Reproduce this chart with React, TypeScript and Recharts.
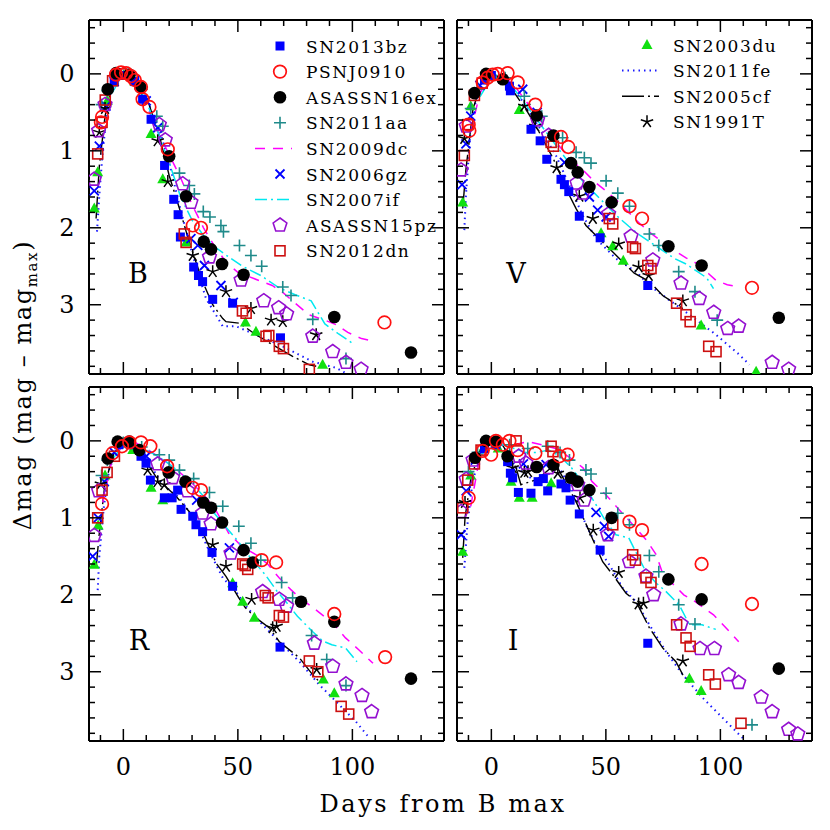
import React from 'react'
import { ComposedChart, Line, Scatter, XAxis, YAxis } from 'recharts'

type Pt = [number, number]

// axis ticks
const xTicks = [-10, 0, 10, 20, 30, 40, 50, 60, 70, 80, 90, 100, 110, 120, 130]
const xLabels = [0, 50, 100]
const yTicks = [
  -0.6, -0.4, -0.2, 0, 0.2, 0.4, 0.6, 0.8, 1, 1.2, 1.4, 1.6, 1.8, 2, 2.2, 2.4,
  2.6, 2.8, 3, 3.2, 3.4, 3.6, 3.8,
]
const yLabels = [0, 1, 2, 3]

// ---- B band ----
const SN2013bz_B: Pt[] = [[-4, 0.1], [-1, 0.02], [2, 0.02], [5, 0.1], [8.4, 0.33], [12.1, 0.59], [18, 1.19], [22, 1.63], [23.9, 1.83], [24.9, 2.12], [30.7, 2.51], [32.8, 2.62], [34.6, 2.7], [39, 2.93], [47.7, 2.98], [68.6, 3.43]]
const PSNJ0910_B: Pt[] = [[-9.8, 0.63], [-9.3, 0.56], [-3.2, 0.01], [-1, -0.02], [1.2, -0.01], [3.3, 0.03], [5, 0.08], [7.7, 0.17], [8.4, 0.33], [11.4, 0.43], [19.4, 0.98], [30.3, 1.97], [33.9, 2.0], [114, 3.23]]
const ASASSN16ex_B: Pt[] = [[-6.8, 0.2], [-3.2, -0.01], [2.6, 0.01], [7.4, 0.17], [20, 1.07], [27.4, 1.59], [35.1, 2.18], [38.3, 2.28], [43.1, 2.47], [52.5, 2.61], [92.1, 3.16], [125.6, 3.62]]
const SN2011aa_B: Pt[] = [[-9.5, 0.4], [-7, 0.22], [-2, 0.02], [3, 0.02], [8, 0.2], [14.6, 0.55], [17.2, 0.68], [24.5, 1.29], [28.8, 1.45], [31, 1.56], [34.9, 1.79], [37.8, 1.86], [42.6, 1.97], [43.7, 2.05], [50.7, 2.23], [55.7, 2.36], [60.4, 2.5], [69.6, 2.77], [73.2, 2.88], [82.7, 3.19], [97.2, 3.7]]
const SN2009dc_B: Pt[] = [[-8, 0.5], [-5, 0.2], [0, 0], [5, 0.1], [10, 0.4], [15, 0.75], [20, 1.05], [25, 1.35], [30, 1.7], [35, 2.0], [40, 2.25], [45, 2.45], [50, 2.58], [57, 2.66], [65, 2.75], [70, 2.85], [75, 2.98], [81, 3.13], [88, 3.2], [93, 3.26], [98, 3.36], [104, 3.44], [110, 3.48]]
const SN2006gz_B: Pt[] = [[-12.7, 1.52], [-10.5, 0.94], [-7.6, 0.42], [-4, 0.1], [0, 0], [5, 0.08], [10, 0.35], [15, 0.7], [29.5, 2.14], [32.5, 2.23], [35.4, 2.49], [42.6, 2.75], [48, 2.97]]
const SN2007if_B: Pt[] = [[-5, 0.25], [0, 0.0], [5, 0.1], [10, 0.35], [15, 0.75], [20, 1.15], [25, 1.6], [30, 1.9], [35, 2.1], [40, 2.25], [46, 2.38], [52, 2.5], [60, 2.62], [68, 2.78], [75, 2.87], [82, 2.95], [88, 3.25], [94, 3.38], [101, 3.52]]
const ASASSN15pz_B: Pt[] = [[-12.7, 1.37], [-10.8, 0.74], [-8, 0.4], [15.7, 0.66], [18.3, 0.86], [25.9, 1.43], [29.5, 1.67], [37.6, 2.38], [51.4, 2.68], [61.3, 2.95], [67.8, 3.04], [71.3, 3.12], [82.7, 3.41], [91.4, 3.61], [97.2, 3.75], [103.8, 3.84]]
const SN2012dn_B: Pt[] = [[-11.2, 1.04], [-9.3, 0.63], [-7.9, 0.34], [-4.7, 0.09], [-1, 0.0], [26.6, 2.08], [27.4, 2.19], [52, 3.08], [53.6, 3.11], [62.3, 3.41], [63.5, 3.4], [68.1, 3.54], [69.9, 3.57], [81.2, 3.84]]
const SN2003du_B: Pt[] = [[-12.7, 1.75], [-11.2, 1.28], [-7, 0.35], [0, 0.02], [5, 0.1], [12.1, 0.78], [17.2, 1.37], [27.4, 2.19], [53.3, 3.23], [57.9, 3.35], [87, 3.78]]
const SN2011fe_B: Pt[] = [[-11.5, 2.05], [-10.5, 1.58], [-9, 1.0], [-6.8, 0.42], [-4.7, 0.12], [-0.3, -0.01], [4.1, 0.03], [9.9, 0.31], [15.7, 0.72], [20, 1.15], [24.5, 1.71], [30.3, 2.36], [36.1, 2.92], [43.4, 3.28], [49.2, 3.28], [57.9, 3.39], [68.1, 3.52], [82.7, 3.74], [92.9, 3.82], [97.2, 3.89]]
const SN2005cf_B: Pt[] = [[-11.9, 1.88], [-10.5, 1.2], [-8, 0.55], [-5, 0.15], [0, 0], [5, 0.05], [9.9, 0.28], [15.7, 0.8], [20, 1.32], [24.5, 1.75], [28.8, 2.19], [34.6, 2.7], [39, 3.0], [43.4, 3.18], [44.8, 3.22], [50.7, 3.24], [57.9, 3.39], [65.2, 3.52], [73.9, 3.67], [81.2, 3.78], [84.2, 3.8]]
const SN1991T_B: Pt[] = [[-10.5, 0.76], [-8, 0.45], [15, 0.87], [19.4, 1.4], [30.3, 2.36], [39, 2.57], [44.8, 2.83], [55.7, 3.05], [64.5, 3.2], [69.6, 3.22], [84.2, 3.39]]

// ---- V band ----
const SN2013bz_V: Pt[] = [[-3, 0.08], [0, 0.02], [4.9, 0.07], [7.9, 0.16], [8.3, 0.22], [17.3, 0.72], [21.3, 0.87], [24.2, 1.11], [30.4, 1.37], [31.9, 1.44], [33.8, 1.53], [38.4, 1.85], [47.5, 2.13], [68.3, 2.75]]
const PSNJ0910_V: Pt[] = [[-9.9, 0.66], [-9.6, 0.74], [-3.8, 0.11], [-1.6, 0.05], [0.6, 0.01], [2.8, 0], [7.1, -0.01], [11.5, 0.11], [19.2, 0.4], [30.4, 0.82], [33.6, 0.95], [60.3, 1.72], [65.8, 1.88], [113.8, 2.78]]
const ASASSN16ex_V: Pt[] = [[-7.4, 0.25], [-2.3, 0], [5, 0.07], [19.8, 0.54], [27.1, 0.8], [34.8, 1.16], [37.7, 1.28], [42.8, 1.47], [52.5, 1.67], [77.3, 2.24], [91.8, 2.49], [125.5, 3.17]]
const SN2011aa_V: Pt[] = [[-9, 0.45], [-6, 0.2], [0, 0.02], [6, 0.05], [14.4, 0.29], [22, 0.55], [31.1, 0.83], [37, 1.02], [40.6, 1.09], [43.5, 1.16], [50.1, 1.39], [55.2, 1.55], [60.3, 1.72], [69, 2.08], [73.1, 2.23], [81.8, 2.57], [88.9, 2.83], [98.6, 3.2]]
const SN2009dc_V: Pt[] = [[-9, 0.75], [-5, 0.25], [0, 0.02], [5, 0.02], [10, 0.15], [15, 0.35], [20, 0.55], [25, 0.75], [30, 0.95], [35, 1.12], [40, 1.25], [45, 1.4], [50, 1.52], [55, 1.65], [60, 1.8], [65, 1.95], [70, 2.08], [75, 2.19], [80, 2.3], [85, 2.39], [92, 2.5], [95, 2.6], [98, 2.68], [103, 2.74], [108, 2.77]]
const SN2006gz_V: Pt[] = [[-12.8, 1.44], [-11.1, 0.91], [-9, 0.55], [-5, 0.15], [13.7, 0.2], [20, 0.5], [31.9, 1.15], [42.8, 1.6], [46.4, 1.77], [50.1, 1.86]]
const SN2007if_V: Pt[] = [[-5, 0.3], [0, 0.05], [5, 0.05], [10, 0.2], [15, 0.4], [20, 0.6], [25, 0.8], [30, 1.0], [35, 1.2], [40, 1.4], [45, 1.55], [50, 1.7], [55, 1.85], [60, 1.98], [65, 2.1], [70, 2.2], [75, 2.3], [80, 2.4], [85, 2.47], [90, 2.57], [94, 2.65], [97, 2.79]]
const ASASSN15pz_V: Pt[] = [[-13.2, 1.25], [-11, 0.68], [20.2, 0.6], [25, 0.8], [37.4, 1.42], [39.9, 1.55], [51.2, 1.82], [61, 2.11], [70.5, 2.42], [82.8, 2.72], [90.8, 2.92], [97.1, 3.1], [103.2, 3.31], [108, 3.28], [122.6, 3.75], [129.8, 3.84]]
const SN2012dn_V: Pt[] = [[-11.8, 1.06], [-10.3, 0.66], [-7.4, 0.28], [-4, 0.12], [26.1, 0.89], [27.1, 0.94], [51.5, 1.88], [53, 1.95], [61.7, 2.25], [62.9, 2.27], [68.3, 2.49], [69.7, 2.53], [80.9, 2.98], [85, 3.13], [86.8, 3.22], [94.9, 3.54], [98.1, 3.61]]
const SN2003du_V: Pt[] = [[-12.5, 1.67], [-9, 0.42], [0, 0.02], [12.2, 0.47], [47.9, 2.07], [53, 2.24], [57.6, 2.43], [91.6, 3.27], [115.6, 3.87]]
const SN2011fe_V: Pt[] = [[-11.8, 2.03], [-11.1, 1.58], [-9.5, 0.9], [-7.4, 0.42], [-4.5, 0.15], [-0.1, -0.01], [5.7, 0.05], [13, 0.33], [21, 0.7], [28.2, 1.06], [34.1, 1.45], [39.9, 1.84], [45.7, 2.14], [54.4, 2.4], [63.2, 2.57], [69, 2.75], [77.7, 2.94], [86.5, 3.13], [98.1, 3.39], [108.3, 3.65], [112.7, 3.78]]
const SN2005cf_V: Pt[] = [[-12.5, 1.75], [-11.1, 1.24], [-8, 0.45], [-4, 0.1], [0, 0], [6, 0.07], [15.9, 0.5], [19.5, 0.68], [27, 1.1], [34.1, 1.58], [37, 1.75], [41.3, 1.97], [45.7, 2.1], [51.5, 2.27], [57.3, 2.44], [62.4, 2.59], [69, 2.7], [74.8, 2.88], [83.6, 3.05]]
const SN1991T_V: Pt[] = [[-11.8, 0.84], [14.4, 0.42], [19.2, 0.68], [28.5, 1.22], [38.4, 1.59], [44.3, 1.88], [55.6, 2.21], [64.3, 2.51], [68.7, 2.62], [83.6, 2.95]]

// ---- R band ----
const SN2013bz_R: Pt[] = [[-2, 0.05], [3, 0.05], [7.7, 0.2], [9.9, 0.29], [11.8, 0.51], [17.9, 0.74], [21.3, 0.74], [23.7, 0.64], [25.2, 0.89], [30.3, 0.98], [31.7, 1.09], [34.6, 1.18], [38.7, 1.45], [47.7, 1.89], [68.4, 2.68]]
const PSNJ0910_R: Pt[] = [[-9.3, 0.82], [-4.7, 0.16], [-0.6, 0.07], [2.6, 0.02], [7.7, 0.02], [11.8, 0.07], [19.1, 0.33], [30.3, 0.61], [33.9, 0.64], [60.4, 1.55], [66.7, 1.58], [92.1, 2.25], [114.3, 2.81]]
const ASASSN16ex_R: Pt[] = [[-6.8, 0.23], [-2.5, 0.01], [2.6, 0.01], [7, 0.12], [19.8, 0.41], [27.1, 0.53], [34.9, 0.8], [38.3, 0.87], [43.1, 1.06], [52.5, 1.42], [56.5, 1.58], [77.6, 2.09], [92.1, 2.35], [125.6, 3.09]]
const SN2011aa_R: Pt[] = [[-9.5, 0.45], [-7, 0.25], [0, 0.02], [8, 0.08], [15.7, 0.18], [20, 0.25], [24.5, 0.38], [30.7, 0.49], [37.6, 0.67], [43.4, 0.85], [50.4, 1.11], [55.7, 1.33], [60, 1.55], [69.1, 1.84], [73.9, 2.04], [82.2, 2.53], [88.8, 2.84], [97.2, 3.18]]
const SN2009dc_R: Pt[] = [[-9, 0.8], [-5, 0.25], [0, 0.05], [5, 0.02], [10, 0.1], [15, 0.2], [20, 0.3], [25, 0.42], [30, 0.55], [35, 0.7], [40, 0.88], [46, 1.2], [52, 1.38], [58, 1.48], [63, 1.6], [68, 1.78], [73, 1.93], [77, 2.04], [83, 2.17], [88.5, 2.3], [93, 2.42], [97, 2.56], [103, 2.72], [109, 2.89]]
const SN2006gz_R: Pt[] = [[-13.4, 1.5], [-11, 1.0], [-8.3, 0.53], [-4, 0.15], [10, 0.2], [32, 0.77], [46.3, 1.39]]
const SN2007if_R: Pt[] = [[-5, 0.25], [0, 0.05], [5, 0.05], [10, 0.12], [15, 0.2], [20, 0.3], [25, 0.42], [30, 0.55], [35, 0.72], [40, 0.95], [45, 1.13], [50, 1.3], [55, 1.5], [62, 1.74], [67, 1.95], [71, 2.09], [76, 2.28], [82.7, 2.48], [87, 2.6], [91, 2.65], [97, 2.69], [102, 2.87]]
const ASASSN15pz_R: Pt[] = [[-12.7, 1.23], [-10.8, 0.65], [15, 0.3], [21.5, 0.48], [28, 0.65], [34.6, 0.94], [38.3, 1.08], [47, 1.46], [60.8, 1.96], [68.1, 2.06], [71.3, 2.15], [83.4, 2.63], [91.4, 2.93], [97.2, 3.16], [104.2, 3.31], [108.4, 3.52]]
const SN2012dn_R: Pt[] = [[-11.2, 1.0], [-9.3, 0.64], [-7.1, 0.41], [-3.9, 0.2], [52.1, 1.6], [53.2, 1.62], [54.3, 1.67], [62, 2.01], [63.2, 2.04], [68.1, 2.27], [69.9, 2.29], [81.2, 2.86], [84.9, 3.0], [95.1, 3.45], [98.4, 3.55]]
const SN2003du_R: Pt[] = [[-12.7, 1.61], [-11, 1.1], [-8, 0.45], [4.1, 0.12], [12.1, 0.61], [17.2, 0.77], [47.7, 1.85], [52.1, 2.09], [57.2, 2.3], [87.3, 3.1], [92.1, 3.28]]
const SN2011fe_R: Pt[] = [[-11.2, 1.94], [-10.5, 1.5], [-8.5, 0.85], [-6.1, 0.35], [-1.7, 0.1], [2.6, 0.05], [9.9, 0.23], [17.2, 0.57], [24.5, 0.74], [31.7, 1.05], [37.6, 1.44], [43.4, 1.78], [49.2, 1.96], [53.6, 2.15], [60.8, 2.39], [68.1, 2.61], [76.9, 2.87], [85.6, 3.17], [94.3, 3.43], [101.6, 3.65], [107.4, 3.86]]
const SN2005cf_R: Pt[] = [[-11.9, 1.65], [-10.5, 1.2], [-8, 0.55], [-4, 0.15], [0, 0.02], [5, 0.06], [9.9, 0.27], [15, 0.5], [23, 0.72], [28.8, 0.92], [34.6, 1.18], [40.5, 1.59], [44.8, 1.76], [50.4, 2.04], [53.3, 2.17], [57.9, 2.3], [63.8, 2.43], [68.1, 2.61], [76.9, 2.82], [82.7, 3.04], [85.6, 3.13]]
const SN1991T_R: Pt[] = [[-9.8, 0.56], [10.6, 0.38], [15, 0.53], [17.9, 0.57], [39, 1.35], [44.8, 1.63], [56, 2.06], [65.2, 2.43], [66.9, 2.41], [84.4, 2.97]]

// ---- I band ----
const SN2013bz_I: Pt[] = [[-3, 0.1], [2, 0.05], [7.1, 0.27], [8.3, 0.42], [9.3, 0.48], [11.8, 0.67], [17.3, 0.68], [20.4, 0.53], [22.7, 0.49], [24.6, 0.65], [30.4, 0.56], [32.6, 0.61], [34.4, 0.77], [38.4, 0.95], [47.5, 1.42], [68.3, 2.63]]
const PSNJ0910_I: Pt[] = [[-9.9, 0.74], [-3.8, 0.13], [-0.1, 0.18], [2, 0], [5, 0.05], [7.9, 0], [11.5, 0.12], [19.2, 0.16], [29.7, 0.2], [33.3, 0.18], [60.3, 1.05], [65.8, 1.16], [91.8, 1.6], [113.8, 2.12]]
const ASASSN16ex_I: Pt[] = [[-7.1, 0.22], [-2.3, 0], [2, 0.01], [7.1, 0.2], [19.8, 0.34], [27.1, 0.31], [34.8, 0.48], [37.7, 0.53], [42.8, 0.64], [52.5, 1.0], [77.3, 1.8], [91.8, 2.06], [125.5, 2.96]]
const SN2011aa_I: Pt[] = [[-10, 0.4], [-6, 0.15], [0, 0.02], [8, 0.05], [15.9, 0.1], [24.6, 0.07], [30, 0.15], [34.1, 0.25], [41.3, 0.38], [43.5, 0.43], [50.1, 0.68], [55.2, 0.94], [60.3, 1.09], [69, 1.49], [73.1, 1.7], [81.8, 2.13], [88.9, 2.38], [113.8, 3.69]]
const SN2009dc_I: Pt[] = [[-9, 0.85], [-5, 0.2], [0, 0.05], [5, 0.05], [10, 0.05], [16, 0.01], [22, 0.05], [28, 0.1], [35, 0.23], [40, 0.35], [44, 0.53], [50, 0.7], [56, 0.9], [63, 1.13], [68, 1.3], [72, 1.48], [75, 1.74], [80, 1.88], [84, 2.0], [89, 2.09], [97, 2.26], [104, 2.48], [108, 2.61]]
const SN2006gz_I: Pt[] = [[-13.2, 1.22], [-11, 0.65], [-7, 0.25], [14, 0.3], [23.9, 0.31], [45.7, 0.93], [49.3, 1.11], [51.2, 1.24]]
const SN2007if_I: Pt[] = [[-5, 0.2], [0, 0.05], [5, 0.05], [10, 0.1], [15, 0.15], [20, 0.15], [25, 0.12], [30, 0.2], [35, 0.35], [40, 0.55], [45.7, 0.83], [50, 1.05], [54.4, 1.22], [60, 1.26], [63, 1.44], [67.5, 1.7], [72, 1.85], [76, 1.95], [82, 2.13], [86.5, 2.39], [92, 2.39], [98, 2.45]]
const ASASSN15pz_I: Pt[] = [[-13.2, 0.92], [-11, 0.5], [-8, 0.25], [12, 0.2], [15.1, 0.29], [25, 0.35], [37.7, 0.57], [40.6, 0.77], [50.8, 1.22], [60.3, 1.57], [67.5, 1.76], [70.9, 2.0], [82.8, 2.38], [91.1, 2.7], [97.4, 2.7], [103.6, 3.04], [108, 3.14], [117.8, 3.33], [122.6, 3.52], [129.8, 3.75], [133.8, 3.81]]
const SN2012dn_I: Pt[] = [[-12.5, 0.87], [-10.3, 0.51], [-7.4, 0.3], [-4.5, 0.12], [10.8, 0], [26.1, 0.07], [26.9, 0.14], [53, 1.09], [61.7, 1.48], [62.9, 1.55], [67.5, 1.78], [69.7, 1.84], [80.9, 2.39], [85, 2.56], [86.8, 2.67], [94.9, 3.04], [97.8, 3.16], [109, 3.67]]
const SN2003du_I: Pt[] = [[-12.5, 1.44], [-9, 0.45], [-3, 0.08], [3, 0.1], [8.6, 0.53], [12.2, 0.74], [17.8, 0.74], [26.1, 0.55], [86.5, 3.09], [91.6, 3.25]]
const SN2011fe_I: Pt[] = [[-11.8, 1.65], [-10.5, 1.1], [-8.2, 0.53], [-4.5, 0.14], [-0.1, 0.01], [4.9, 0.05], [10.8, 0.35], [19.5, 0.53], [29.7, 0.35], [35.5, 0.66], [41.3, 1.09], [45.7, 1.35], [51.5, 1.61], [57.3, 1.91], [63.2, 2.09], [69, 2.39], [76.3, 2.74], [83.6, 3.04], [92.3, 3.34], [101, 3.6], [108.3, 3.82], [111.2, 3.9]]
const SN2005cf_I: Pt[] = [[-12.5, 1.52], [-11.5, 1.0], [-9, 0.5], [-5, 0.12], [0, 0], [5, 0.06], [10.8, 0.35], [12.9, 0.57], [20, 0.5], [28, 0.3], [37, 0.79], [42.8, 1.18], [48.6, 1.57], [53, 1.74], [58.8, 1.98], [63.2, 2.09], [69, 2.43], [74.8, 2.69], [80.6, 2.87], [83.6, 3.04], [86.5, 3.13]]
const SN1991T_I: Pt[] = [[-11.5, 0.8], [9.3, 0.35], [14.4, 0.41], [16, 0.4], [29, 0.42], [38.7, 0.74], [44.5, 1.16], [55.6, 1.71], [64.3, 2.12], [66.4, 2.11], [83.6, 2.86]]

type Kind = 'square' | 'ring' | 'dot' | 'plus' | 'cross' | 'pentagon' | 'box' | 'triangle' | 'star'

interface SeriesDef {
  name: string
  color: string
  kind?: Kind
  dash?: string
  width?: number
  data: Record<string, Pt[]>
}

const LINES: SeriesDef[] = [
  { name: 'SN2011fe', color: '#1a1aff', dash: '1.5 4', width: 2, data: { B: SN2011fe_B, V: SN2011fe_V, R: SN2011fe_R, I: SN2011fe_I } },
  { name: 'SN2005cf', color: '#000000', dash: '22 4 2 4', width: 1.4, data: { B: SN2005cf_B, V: SN2005cf_V, R: SN2005cf_R, I: SN2005cf_I } },
  { name: 'SN2009dc', color: '#ff00ff', dash: '10 8', width: 1.5, data: { B: SN2009dc_B, V: SN2009dc_V, R: SN2009dc_R, I: SN2009dc_I } },
  { name: 'SN2007if', color: '#00e8f0', dash: '12 4 2 4', width: 1.5, data: { B: SN2007if_B, V: SN2007if_V, R: SN2007if_R, I: SN2007if_I } },
]

const POINTS: SeriesDef[] = [
  { name: 'SN2003du', color: '#10e010', kind: 'triangle', data: { B: SN2003du_B, V: SN2003du_V, R: SN2003du_R, I: SN2003du_I } },
  { name: 'SN2006gz', color: '#0000ff', kind: 'cross', data: { B: SN2006gz_B, V: SN2006gz_V, R: SN2006gz_R, I: SN2006gz_I } },
  { name: 'SN2011aa', color: '#1f8a8a', kind: 'plus', data: { B: SN2011aa_B, V: SN2011aa_V, R: SN2011aa_R, I: SN2011aa_I } },
  { name: 'SN1991T', color: '#000000', kind: 'star', data: { B: SN1991T_B, V: SN1991T_V, R: SN1991T_R, I: SN1991T_I } },
  { name: 'ASASSN15pz', color: '#9410d0', kind: 'pentagon', data: { B: ASASSN15pz_B, V: ASASSN15pz_V, R: ASASSN15pz_R, I: ASASSN15pz_I } },
  { name: 'SN2013bz', color: '#0000ff', kind: 'square', data: { B: SN2013bz_B, V: SN2013bz_V, R: SN2013bz_R, I: SN2013bz_I } },
  { name: 'SN2012dn', color: '#cc1010', kind: 'box', data: { B: SN2012dn_B, V: SN2012dn_V, R: SN2012dn_R, I: SN2012dn_I } },
  { name: 'ASASSN16ex', color: '#000000', kind: 'dot', data: { B: ASASSN16ex_B, V: ASASSN16ex_V, R: ASASSN16ex_R, I: ASASSN16ex_I } },
  { name: 'PSNJ0910', color: '#ff1010', kind: 'ring', data: { B: PSNJ0910_B, V: PSNJ0910_V, R: PSNJ0910_R, I: PSNJ0910_I } },
]

const legendLeft = ['SN2013bz', 'PSNJ0910', 'ASASSN16ex', 'SN2011aa', 'SN2009dc', 'SN2006gz', 'SN2007if', 'ASASSN15pz', 'SN2012dn']
const legendRight = ['SN2003du', 'SN2011fe', 'SN2005cf', 'SN1991T']

const PANELS = [
  { band: 'B', left: 89, right: 444, top: 20, bottom: 374, yLab: true, xLab: false, lx: 138, ly: 283 },
  { band: 'V', left: 457, right: 812, top: 20, bottom: 374, yLab: false, xLab: false, lx: 516, ly: 283 },
  { band: 'R', left: 89, right: 444, top: 387, bottom: 741, yLab: true, xLab: true, lx: 139, ly: 650 },
  { band: 'I', left: 457, right: 812, top: 387, bottom: 741, yLab: false, xLab: true, lx: 513, ly: 650 },
]

const FONT = '"DejaVu Serif", serif'
const AX = 1 // thickness reserved for each axis
const rows = (pts: Pt[]) => pts.map(([x, y]) => ({ x, y }))

function Marker({ kind, color, cx, cy }: { kind: Kind; color: string; cx: number; cy: number }) {
  if (cx == null || cy == null) return null
  switch (kind) {
    case 'square':
      return <rect x={cx - 4.5} y={cy - 4.5} width={9} height={9} fill={color} />
    case 'ring':
      return <circle cx={cx} cy={cy} r={6.3} fill="none" stroke={color} strokeWidth={1.7} />
    case 'dot':
      return <circle cx={cx} cy={cy} r={6.3} fill={color} />
    case 'plus':
      return <path d={`M${cx - 6},${cy}H${cx + 6}M${cx},${cy - 6}V${cy + 6}`} stroke={color} strokeWidth={1.6} />
    case 'cross':
      return <path d={`M${cx - 4.5},${cy - 4.5}L${cx + 4.5},${cy + 4.5}M${cx - 4.5},${cy + 4.5}L${cx + 4.5},${cy - 4.5}`} stroke={color} strokeWidth={1.8} />
    case 'box':
      return <rect x={cx - 5} y={cy - 5} width={10} height={10} fill="none" stroke={color} strokeWidth={1.6} />
    case 'triangle':
      return <polygon points={`${cx},${cy - 6} ${cx + 5.5},${cy + 4} ${cx - 5.5},${cy + 4}`} fill={color} />
    case 'pentagon': {
      const p = [0, 1, 2, 3, 4].map((k) => {
        const a = ((-90 + 72 * k) * Math.PI) / 180
        return `${cx + 7.2 * Math.cos(a)},${cy + 7.2 * Math.sin(a)}`
      })
      return <polygon points={p.join(' ')} fill="none" stroke={color} strokeWidth={1.6} />
    }
    case 'star': {
      const d = [0, 1, 2, 3, 4]
        .map((k) => {
          const a = ((-90 + 72 * k) * Math.PI) / 180
          return `M${cx},${cy}L${cx + 6.5 * Math.cos(a)},${cy + 6.5 * Math.sin(a)}`
        })
        .join('')
      return <path d={d} stroke={color} strokeWidth={1.5} />
    }
  }
  return null
}

type Geo = (typeof PANELS)[number]

const isMajorY = (v: number) => yLabels.includes(v)
const isMajorX = (v: number) => xLabels.includes(v)

const bottomTick = (g: Geo) => (props: any) => {
  const { x, payload } = props
  const major = isMajorX(payload.value)
  return (
    <g>
      <line x1={x} x2={x} y1={g.bottom} y2={g.bottom - (major ? 12 : 6)} stroke="#000" strokeWidth={1.5} />
      {g.xLab && major && (
        <text x={x} y={g.bottom + 34} textAnchor="middle" fontFamily={FONT} fontSize={24} fill="#000">
          {payload.value}
        </text>
      )}
    </g>
  )
}

const topTick = (g: Geo) => (props: any) => {
  const { x, payload } = props
  const major = isMajorX(payload.value)
  return <line x1={x} x2={x} y1={g.top} y2={g.top + (major ? 12 : 6)} stroke="#000" strokeWidth={1.5} />
}

const leftTick = (g: Geo) => (props: any) => {
  const { y, payload } = props
  const major = isMajorY(payload.value)
  return (
    <g>
      <line x1={g.left} x2={g.left + (major ? 12 : 6)} y1={y} y2={y} stroke="#000" strokeWidth={1.5} />
      {g.yLab && major && (
        <text x={g.left - 22} y={y + 8.5} textAnchor="middle" fontFamily={FONT} fontSize={24} fill="#000">
          {payload.value}
        </text>
      )}
    </g>
  )
}

const rightTick = (g: Geo) => (props: any) => {
  const { y, payload } = props
  const major = isMajorY(payload.value)
  return <line x1={g.right} x2={g.right - (major ? 12 : 6)} y1={y} y2={y} stroke="#000" strokeWidth={1.5} />
}

function Panel({ g }: { g: Geo }) {
  const axisLine = { stroke: '#000', strokeWidth: 2 }
  return (
    <div style={{ position: 'absolute', left: 0, top: 0 }}>
      <ComposedChart
        width={830}
        height={830}
        margin={{ top: g.top - AX, left: g.left - AX, right: 830 - g.right - AX, bottom: 830 - g.bottom - AX }}
      >
        <XAxis xAxisId="b" dataKey="x" type="number" domain={[-15, 140]} ticks={xTicks} interval={0} height={AX} axisLine={axisLine} tickLine={false} tick={bottomTick(g)} allowDataOverflow />
        <XAxis xAxisId="t" dataKey="x" type="number" orientation="top" domain={[-15, 140]} ticks={xTicks} interval={0} height={AX} axisLine={axisLine} tickLine={false} tick={topTick(g)} allowDataOverflow />
        <YAxis yAxisId="l" dataKey="y" type="number" reversed domain={[-0.7, 3.9]} ticks={yTicks} interval={0} width={AX} axisLine={axisLine} tickLine={false} tick={leftTick(g)} allowDataOverflow />
        <YAxis yAxisId="r" dataKey="y" type="number" orientation="right" reversed domain={[-0.7, 3.9]} ticks={yTicks} interval={0} width={AX} axisLine={axisLine} tickLine={false} tick={rightTick(g)} allowDataOverflow />
        {LINES.map((s) => (
          <Line
            key={s.name}
            xAxisId="b"
            yAxisId="l"
            data={rows(s.data[g.band])}
            dataKey="y"
            type="linear"
            stroke={s.color}
            strokeWidth={s.width}
            strokeDasharray={s.dash}
            dot={false}
            activeDot={false}
            isAnimationActive={false}
          />
        ))}
        {POINTS.map((s) => (
          <Scatter
            key={s.name}
            xAxisId="b"
            yAxisId="l"
            data={rows(s.data[g.band])}
            dataKey="y"
            isAnimationActive={false}
            shape={(p: any) => <Marker kind={s.kind as Kind} color={s.color} cx={p.cx} cy={p.cy} />}
          />
        ))}
        {/* empty series so the top and right axes have something to bind to */}
        <Scatter xAxisId="t" yAxisId="r" data={[]} dataKey="y" isAnimationActive={false} />
      </ComposedChart>
    </div>
  )
}

function LegendEntry({ name, x, y }: { name: string; x: number; y: number }) {
  const pt = POINTS.find((s) => s.name === name)
  const ln = LINES.find((s) => s.name === name)
  return (
    <g>
      {pt && <Marker kind={pt.kind as Kind} color={pt.color} cx={x} cy={y} />}
      {ln && (
        <line x1={x - 25} x2={x + 12} y1={y} y2={y} stroke={ln.color} strokeWidth={ln.width} strokeDasharray={ln.dash} />
      )}
      <text x={x + 26} y={y + 6.5} fontFamily={FONT} fontSize={17} letterSpacing={1.6} fill="#000">
        {name}
      </text>
    </g>
  )
}

export default function App() {
  return (
    <div style={{ position: 'absolute', left: 0, top: 0, width: 830, height: 830, background: '#fff' }}>
      {PANELS.map((g) => (
        <Panel key={g.band} g={g} />
      ))}
      <svg width={830} height={830} style={{ position: 'absolute', left: 0, top: 0, pointerEvents: 'none' }}>
        {legendLeft.map((n, i) => (
          <LegendEntry key={n} name={n} x={280} y={46 + i * 25.6} />
        ))}
        {legendRight.map((n, i) => (
          <LegendEntry key={n} name={n} x={647} y={45 + i * 25.6} />
        ))}
        {PANELS.map((g) => (
          <text key={g.band} x={g.lx} y={g.ly} textAnchor="middle" fontFamily={FONT} fontSize={27} fill="#000">
            {g.band}
          </text>
        ))}
        <text x={443} y={812} textAnchor="middle" fontFamily={FONT} fontSize={24} letterSpacing={2.6} fill="#000">
          Days from B max
        </text>
        <text
          x={0}
          y={0}
          transform="translate(31,385) rotate(-90)"
          textAnchor="middle"
          fontFamily={FONT}
          fontSize={24}
          letterSpacing={1.6}
          fill="#000"
        >
          Δmag (mag – mag
          <tspan fontSize={15} dy={6}>max</tspan>
          <tspan dy={-6}>)</tspan>
        </text>
      </svg>
    </div>
  )
}
